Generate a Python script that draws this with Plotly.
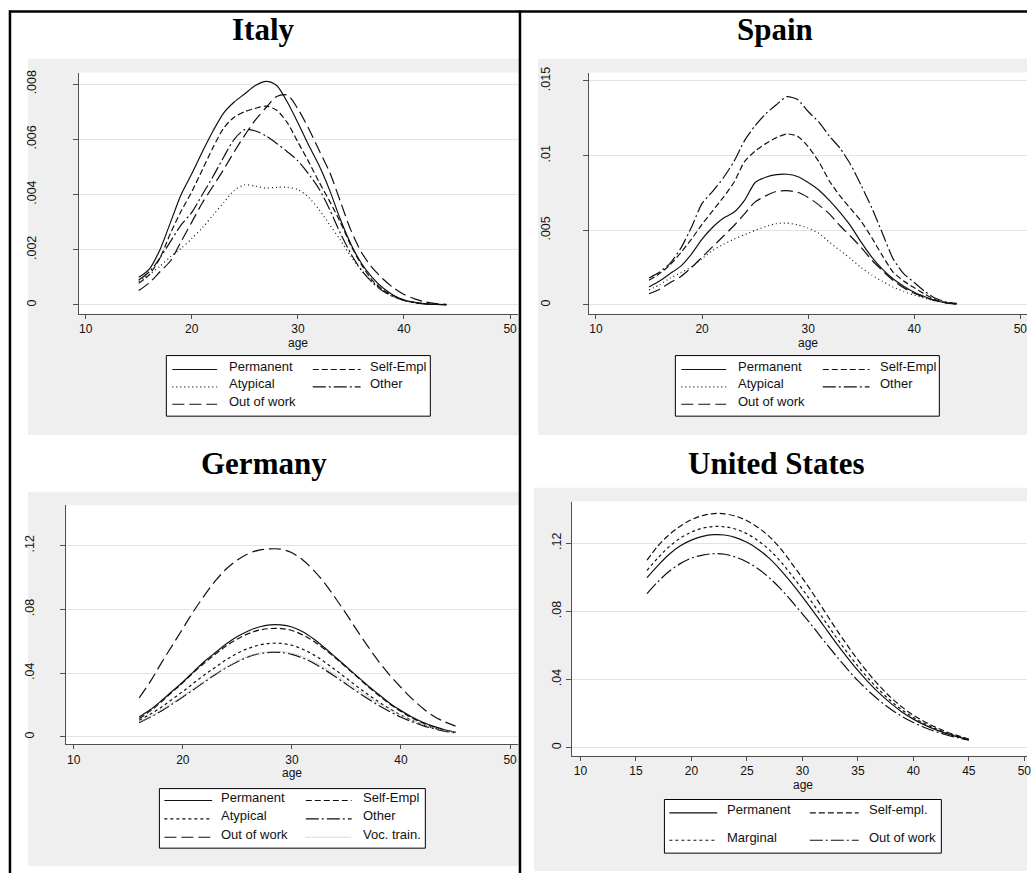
import plotly.graph_objects as go

W, H = 1031, 873

# ---------------- data ----------------
AGES_IT = list(range(15, 45))
AGES_ES = list(range(15, 45))
AGES_DE = list(range(16, 46))
AGES_US = list(range(16, 46))

it_permanent = [0.00100, 0.00130, 0.00200, 0.00300, 0.00400, 0.00475, 0.00555, 0.00630, 0.00695, 0.00735,
                0.00765, 0.00795, 0.00810, 0.00795, 0.00735, 0.00660, 0.00580, 0.00505, 0.00415, 0.00310,
                0.00220, 0.00150, 0.00100, 0.00062, 0.00035, 0.00018, 0.00009, 0.00004, 0.00002, 0.00001]
it_selfempl = [0.00078, 0.00110, 0.00170, 0.00260, 0.00340, 0.00410, 0.00490, 0.00570, 0.00640, 0.00680,
               0.00700, 0.00712, 0.00720, 0.00705, 0.00660, 0.00590, 0.00520, 0.00445, 0.00375, 0.00300,
               0.00215, 0.00145, 0.00090, 0.00055, 0.00033, 0.00018, 0.00009, 0.00004, 0.00002, 0.00001]
it_atypical = [0.00085, 0.00110, 0.00140, 0.00175, 0.00205, 0.00240, 0.00280, 0.00325, 0.00370, 0.00415,
               0.00435, 0.00430, 0.00423, 0.00426, 0.00426, 0.00418, 0.00390, 0.00345, 0.00290, 0.00235,
               0.00175, 0.00125, 0.00085, 0.00052, 0.00030, 0.00016, 0.00008, 0.00004, 0.00002, 0.00001]
it_other = [0.00090, 0.00120, 0.00170, 0.00230, 0.00290, 0.00335, 0.00400, 0.00465, 0.00535, 0.00600,
            0.00635, 0.00630, 0.00612, 0.00585, 0.00555, 0.00522, 0.00475, 0.00420, 0.00345, 0.00260,
            0.00185, 0.00125, 0.00082, 0.00050, 0.00030, 0.00016, 0.00008, 0.00004, 0.00002, 0.00001]
it_outofwork = [0.00052, 0.00080, 0.00120, 0.00160, 0.00230, 0.00300, 0.00370, 0.00430, 0.00490, 0.00555,
                0.00615, 0.00670, 0.00715, 0.00755, 0.00760, 0.00710, 0.00640, 0.00560, 0.00480, 0.00375,
                0.00270, 0.00190, 0.00135, 0.00095, 0.00062, 0.00038, 0.00022, 0.00011, 0.00005, 0.00002]

es_permanent = [0.00120, 0.00160, 0.00210, 0.00260, 0.00340, 0.00440, 0.00520, 0.00580, 0.00620, 0.00700,
                0.00820, 0.00855, 0.00872, 0.00875, 0.00860, 0.00820, 0.00770, 0.00700, 0.00620, 0.00530,
                0.00420, 0.00320, 0.00240, 0.00175, 0.00125, 0.00085, 0.00055, 0.00030, 0.00015, 0.00007]
es_selfempl = [0.00165, 0.00210, 0.00270, 0.00350, 0.00440, 0.00540, 0.00630, 0.00720, 0.00820, 0.00960,
               0.01030, 0.01080, 0.01120, 0.01145, 0.01130, 0.01060, 0.00960, 0.00830, 0.00730, 0.00645,
               0.00560, 0.00450, 0.00330, 0.00220, 0.00160, 0.00115, 0.00072, 0.00035, 0.00015, 0.00007]
es_atypical = [0.00100, 0.00135, 0.00180, 0.00215, 0.00255, 0.00310, 0.00365, 0.00405, 0.00440, 0.00470,
               0.00500, 0.00525, 0.00545, 0.00548, 0.00536, 0.00515, 0.00480, 0.00420, 0.00365, 0.00310,
               0.00250, 0.00200, 0.00158, 0.00120, 0.00090, 0.00066, 0.00045, 0.00028, 0.00015, 0.00007]
es_other = [0.00180, 0.00220, 0.00280, 0.00380, 0.00520, 0.00680, 0.00760, 0.00850, 0.00960, 0.01100,
            0.01200, 0.01280, 0.01340, 0.01395, 0.01375, 0.01295, 0.01225, 0.01130, 0.01050, 0.00940,
            0.00800, 0.00650, 0.00480, 0.00310, 0.00210, 0.00150, 0.00090, 0.00045, 0.00020, 0.00010]
es_outofwork = [0.00075, 0.00105, 0.00150, 0.00190, 0.00250, 0.00320, 0.00390, 0.00460, 0.00530, 0.00610,
                0.00690, 0.00730, 0.00760, 0.00765, 0.00755, 0.00720, 0.00670, 0.00610, 0.00530, 0.00460,
                0.00385, 0.00300, 0.00230, 0.00165, 0.00115, 0.00078, 0.00050, 0.00028, 0.00014, 0.00006]

de_permanent = [0.0125, 0.0170, 0.0225, 0.0285, 0.0345, 0.0410, 0.0475, 0.0530, 0.0585, 0.0630,
                0.0665, 0.0690, 0.0703, 0.0703, 0.0690, 0.0660, 0.0615, 0.0560, 0.0500, 0.0440,
                0.0380, 0.0320, 0.0265, 0.0210, 0.0165, 0.0125, 0.0092, 0.0066, 0.0045, 0.0030]
de_selfempl = [0.0115, 0.0162, 0.0218, 0.0280, 0.0340, 0.0405, 0.0465, 0.0520, 0.0572, 0.0615,
               0.0648, 0.0670, 0.0680, 0.0680, 0.0668, 0.0640, 0.0600, 0.0550, 0.0495, 0.0435,
               0.0375, 0.0315, 0.0258, 0.0205, 0.0160, 0.0120, 0.0088, 0.0062, 0.0043, 0.0028]
de_atypical = [0.0105, 0.0142, 0.0185, 0.0235, 0.0285, 0.0338, 0.0390, 0.0438, 0.0485, 0.0525,
               0.0555, 0.0577, 0.0587, 0.0587, 0.0575, 0.0550, 0.0515, 0.0470, 0.0420, 0.0368,
               0.0315, 0.0265, 0.0218, 0.0175, 0.0137, 0.0104, 0.0077, 0.0056, 0.0040, 0.0028]
de_other = [0.0090, 0.0123, 0.0162, 0.0205, 0.0250, 0.0298, 0.0345, 0.0392, 0.0435, 0.0472,
            0.0502, 0.0522, 0.0531, 0.0530, 0.0518, 0.0495, 0.0462, 0.0422, 0.0377, 0.0330,
            0.0283, 0.0238, 0.0196, 0.0158, 0.0124, 0.0095, 0.0071, 0.0052, 0.0037, 0.0026]
de_outofwork = [0.0245, 0.0345, 0.0460, 0.0570, 0.0680, 0.0790, 0.0890, 0.0980, 0.1055, 0.1110,
                0.1150, 0.1172, 0.1180, 0.1178, 0.1155, 0.1110, 0.1045, 0.0965, 0.0870, 0.0770,
                0.0665, 0.0565, 0.0470, 0.0385, 0.0310, 0.0240, 0.0180, 0.0130, 0.0095, 0.0068]
de_voctrain = [0.0095, 0.0128, 0.0168, 0.0212, 0.0258, 0.0305, 0.0352, 0.0398, 0.0440, 0.0478,
               0.0507, 0.0526, 0.0535, 0.0535, 0.0525, 0.0503, 0.0472, 0.0434, 0.0390, 0.0344,
               0.0297, 0.0252, 0.0209, 0.0170, 0.0135, 0.0104, 0.0078, 0.0057, 0.0041, 0.0029]

us_permanent = [0.0998, 0.1070, 0.1135, 0.1185, 0.1218, 0.1240, 0.1250, 0.1248, 0.1233, 0.1205,
                0.1165, 0.1112, 0.1045, 0.0968, 0.0885, 0.0798, 0.0708, 0.0618, 0.0533, 0.0453,
                0.0380, 0.0315, 0.0258, 0.0208, 0.0167, 0.0133, 0.0105, 0.0082, 0.0063, 0.0046]
us_selfempl = [0.1100, 0.1185, 0.1250, 0.1300, 0.1338, 0.1362, 0.1374, 0.1372, 0.1358, 0.1332,
               0.1292, 0.1240, 0.1170, 0.1085, 0.0995, 0.0900, 0.0800, 0.0700, 0.0605, 0.0515,
               0.0432, 0.0358, 0.0292, 0.0237, 0.0190, 0.0152, 0.0120, 0.0092, 0.0070, 0.0050]
us_marginal = [0.1040, 0.1115, 0.1180, 0.1230, 0.1265, 0.1288, 0.1298, 0.1296, 0.1282, 0.1255,
               0.1215, 0.1162, 0.1095, 0.1015, 0.0930, 0.0840, 0.0745, 0.0652, 0.0562, 0.0478,
               0.0402, 0.0333, 0.0272, 0.0220, 0.0177, 0.0141, 0.0111, 0.0086, 0.0066, 0.0048]
us_outofwork = [0.0904, 0.0975, 0.1035, 0.1080, 0.1112, 0.1130, 0.1138, 0.1135, 0.1118, 0.1090,
                0.1050, 0.0998, 0.0935, 0.0862, 0.0785, 0.0705, 0.0622, 0.0542, 0.0465, 0.0393,
                0.0330, 0.0273, 0.0224, 0.0182, 0.0147, 0.0118, 0.0094, 0.0074, 0.0058, 0.0044]

X_TICKS_10 = [10, 20, 30, 40, 50]
X_TICKS_5 = [10, 15, 20, 25, 30, 35, 40, 45, 50]
Y_TICKS_IT = [0, 0.002, 0.004, 0.006, 0.008]
Y_TEXT_IT = ["0", ".002", ".004", ".006", ".008"]
Y_TICKS_ES = [0, 0.005, 0.01, 0.015]
Y_TEXT_ES = ["0", ".005", ".01", ".015"]
Y_TICKS_DE = [0, 0.04, 0.08, 0.12]
Y_TEXT_DE = ["0", ".04", ".08", ".12"]
Y_TICKS_US = [0, 0.04, 0.08, 0.12]
Y_TEXT_US = ["0", ".04", ".08", ".12"]

# ---------------- styles ----------------
SOLID = "solid"
SHORTDASH = "6px,3px"
DOTTED = "1px,3px"
FINEDASH = "3px,3px"
DASHDOT = "13px,3px,2px,3px"
LONGDASH = "12px,5px"
VOCDOT = "1px,1px"
BLACK = "#111111"
VOC_COLOR = "#b8b8b8"

PANELS = [
    dict(title="Italy", title_xy=(265, 24), n="",
         bg=(28, 53, 521, 432), plot=(79, 67, 520.5, 310),
         xr=(9.342, 50.79), yr=(-0.000324, 0.008417),
         xt=X_TICKS_10, yt=Y_TICKS_IT, ytt=Y_TEXT_IT, ystand=32, age_xy=(299, 339),
         ages=AGES_IT, smooth=0.8,
         series=[("Permanent", it_permanent, SOLID, BLACK),
                 ("Self-Empl", it_selfempl, SHORTDASH, BLACK),
                 ("Atypical", it_atypical, DOTTED, BLACK),
                 ("Other", it_other, DASHDOT, BLACK),
                 ("Out of work", it_outofwork, LONGDASH, BLACK)],
         legend=dict(box=(167, 352, 432, 413), rows=[366, 383.5, 401],
                     cols=[(173, 218, 228), (314, 362, 369)])),
    dict(title="Spain", title_xy=(778, 24), n="2",
         bg=(540, 53, 1031, 432), plot=(591, 67, 1031, 310),
         xr=(9.315, 50.63), yr=(-0.000598, 0.01556),
         xt=X_TICKS_10, yt=Y_TICKS_ES, ytt=Y_TEXT_ES, ystand=28, age_xy=(811, 339),
         ages=AGES_ES, smooth=0.6,
         series=[("Permanent", es_permanent, SOLID, BLACK),
                 ("Self-Empl", es_selfempl, SHORTDASH, BLACK),
                 ("Atypical", es_atypical, DOTTED, BLACK),
                 ("Other", es_other, DASHDOT, BLACK),
                 ("Out of work", es_outofwork, LONGDASH, BLACK)],
         legend=dict(box=(678, 352, 943, 413), rows=[366, 383.5, 401],
                     cols=[(684, 729, 739), (826, 873, 881)])),
    dict(title="Germany", title_xy=(265, 461), n="3",
         bg=(28, 489, 521, 866), plot=(66.7, 502.7, 520.5, 743.3),
         xr=(9.333, 50.77), yr=(-0.00455, 0.14536),
         xt=X_TICKS_10, yt=Y_TICKS_DE, ytt=Y_TEXT_DE, ystand=21, age_xy=(293, 772.5),
         ages=AGES_DE, smooth=1.0,
         series=[("Permanent", de_permanent, SOLID, BLACK),
                 ("Self-Empl", de_selfempl, SHORTDASH, BLACK),
                 ("Atypical", de_atypical, FINEDASH, BLACK),
                 ("Other", de_other, DASHDOT, BLACK),
                 ("Out of work", de_outofwork, LONGDASH, BLACK),
                 ("Voc. train.", de_voctrain, VOCDOT, VOC_COLOR)],
         legend=dict(box=(160, 788, 427, 848), rows=[800, 818.5, 837],
                     cols=[(165, 213, 220), (307, 353, 362)])),
    dict(title="United States", title_xy=(780, 461), n="4",
         bg=(536, 485, 1031, 871), plot=(574, 499, 1031, 755),
         xr=(9.219, 50.24), yr=(-0.00484, 0.14443),
         xt=X_TICKS_5, yt=Y_TICKS_US, ytt=Y_TEXT_US, ystand=0, age_xy=(806, 784.5),
         ages=AGES_US, smooth=1.0,
         series=[("Permanent", us_permanent, SOLID, BLACK),
                 ("Self-empl.", us_selfempl, SHORTDASH, BLACK),
                 ("Marginal", us_marginal, FINEDASH, BLACK),
                 ("Out of work", us_outofwork, DASHDOT, BLACK)],
         legend=dict(box=(667, 799, 945, 853), rows=[812.5, 840],
                     cols=[(672, 720, 728), (813, 862, 870)])),
]

TEXT_DY = -3  # visual correction for annotation text placement


def fx(p):
    return p / W


def fy(p):
    return 1 - p / H


fig = go.Figure()
shapes = []
annotations = []
layout_axes = {}

TICK_FONT = dict(family="Liberation Sans, Arial, sans-serif", size=12.5, color="#111111")
XTICK_FONT = dict(family="Liberation Sans, Arial, sans-serif", size=12, color="#111111")
AGE_FONT = dict(family="Liberation Sans, Arial, sans-serif", size=12, color="#111111")
AXIS_COLOR = "#505050"
GRID_COLOR = "#e3e3e3"

# gray graph regions first, then white plot regions
for p in PANELS:
    x0, y0, x1, y1 = p["bg"]
    shapes.append(dict(type="rect", xref="paper", yref="paper", layer="below",
                       x0=fx(x0), x1=fx(x1), y0=fy(y1), y1=fy(y0),
                       fillcolor="#efefef", line=dict(width=0)))
for p in PANELS:
    x0, y0, x1, y1 = p["plot"]
    shapes.append(dict(type="rect", xref="paper", yref="paper", layer="below",
                       x0=fx(x0), x1=fx(x1), y0=fy(y1), y1=fy(y0),
                       fillcolor="white", line=dict(width=0)))

for p in PANELS:
    n = p["n"]
    xa = "x" + n
    ya = "y" + n
    x0, y0, x1, y1 = p["plot"]
    layout_axes["xaxis" + n] = dict(
        domain=[fx(x0), fx(x1)], range=list(p["xr"]), anchor=ya,
        tickmode="array", tickvals=p["xt"], ticktext=[str(v) for v in p["xt"]],
        showline=True, linecolor=AXIS_COLOR, linewidth=1,
        ticks="outside", ticklen=4, tickcolor=AXIS_COLOR, tickwidth=1,
        showgrid=False, zeroline=False, tickfont=XTICK_FONT,
        ticklabelstandoff=0, ticklabeloverflow="allow", fixedrange=True)
    layout_axes["yaxis" + n] = dict(
        domain=[fy(y1), fy(y0)], range=list(p["yr"]), anchor=xa,
        tickmode="array", tickvals=p["yt"], ticktext=p["ytt"], tickangle=-90,
        showline=True, linecolor=AXIS_COLOR, linewidth=1,
        ticks="outside", ticklen=5, tickcolor=AXIS_COLOR, tickwidth=1,
        showgrid=True, gridcolor=GRID_COLOR, gridwidth=1, zeroline=False,
        tickfont=TICK_FONT, ticklabelstandoff=p["ystand"], fixedrange=True)

    for name, vals, dash, color in p["series"]:
        fig.add_trace(go.Scatter(
            x=p["ages"], y=vals, mode="lines", name=name, showlegend=False,
            xaxis=xa, yaxis=ya,
            line=dict(color=color, width=1.2, dash=dash, shape="spline",
                      smoothing=p["smooth"])))

    # title
    tx, ty = p["title_xy"]
    annotations.append(dict(text="<b>%s</b>" % p["title"], x=fx(tx), y=fy(ty),
                            xref="paper", yref="paper", showarrow=False,
                            xanchor="center", yanchor="middle",
                            font=dict(family="Liberation Serif, Times New Roman, serif",
                                      size=31, color="black")))
    # x axis title
    axx, axy = p["age_xy"]
    annotations.append(dict(text="age", x=fx(axx), y=fy(axy), xref="paper", yref="paper",
                            showarrow=False, xanchor="center", yanchor="middle",
                            font=AGE_FONT))

    # legend
    lg = p["legend"]
    bx0, by0, bx1, by1 = lg["box"]
    shapes.append(dict(type="rect", xref="paper", yref="paper", layer="above",
                       x0=fx(bx0), x1=fx(bx1), y0=fy(by1), y1=fy(by0),
                       fillcolor="white", line=dict(color="black", width=1)))
    ncols = len(lg["cols"])
    for i, (name, vals, dash, color) in enumerate(p["series"]):
        r = i // ncols
        c = i % ncols
        ry = lg["rows"][r]
        sx0, sx1, tx0 = lg["cols"][c]
        shapes.append(dict(type="line", xref="paper", yref="paper", layer="above",
                           x0=fx(sx0), x1=fx(sx1), y0=fy(ry), y1=fy(ry),
                           line=dict(color=color, width=1.2, dash=dash)))
        annotations.append(dict(text=name, x=fx(tx0), y=fy(ry + TEXT_DY), xref="paper", yref="paper",
                                showarrow=False, xanchor="left", yanchor="middle",
                                font=dict(family="Liberation Sans, Arial, sans-serif",
                                          size=13, color="#111111")))

# table borders
shapes.append(dict(type="line", xref="paper", yref="paper", layer="above",
                   x0=fx(9), x1=fx(1031), y0=fy(5.5), y1=fy(5.5),
                   line=dict(color="black", width=2.5)))
shapes.append(dict(type="line", xref="paper", yref="paper", layer="above",
                   x0=fx(10), x1=fx(10), y0=fy(4.5), y1=fy(873),
                   line=dict(color="black", width=2.5)))
shapes.append(dict(type="line", xref="paper", yref="paper", layer="above",
                   x0=fx(522), x1=fx(522), y0=fy(4.5), y1=fy(873),
                   line=dict(color="black", width=2.5)))

fig.update_layout(
    width=W, height=H, margin=dict(l=0, r=0, t=0, b=0),
    paper_bgcolor="white", plot_bgcolor="rgba(0,0,0,0)",
    showlegend=False, shapes=shapes, annotations=annotations,
    **layout_axes)

fig.write_html("out.html", config={"displayModeBar": False},
               post_script="document.body.style.margin='0';document.body.style.padding='0';"
                           "document.body.style.overflow='hidden';")
